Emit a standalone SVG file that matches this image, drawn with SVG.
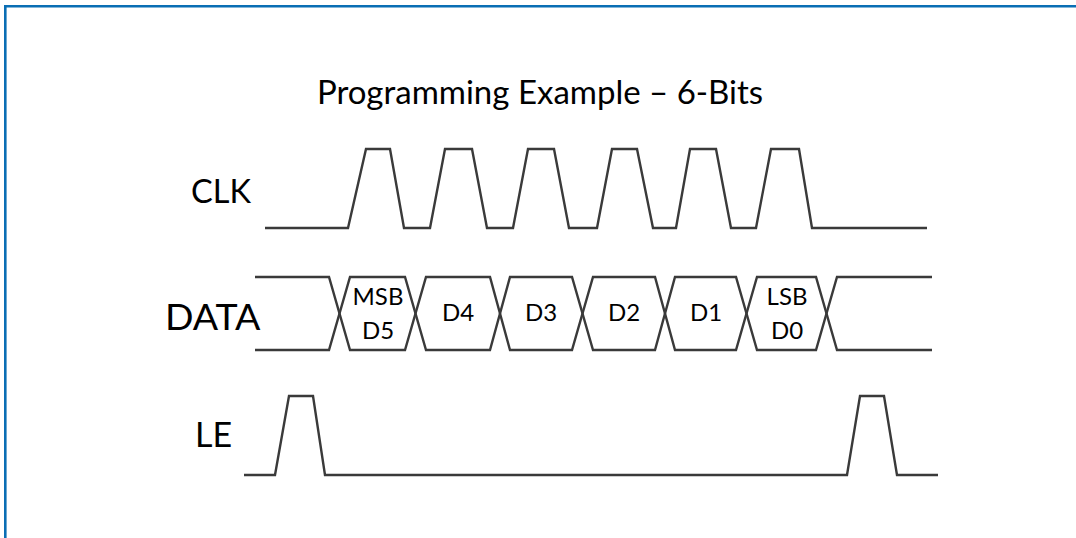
<svg xmlns="http://www.w3.org/2000/svg" width="1076" height="538" viewBox="0 0 1076 538">
  <style>
    .frame { stroke: #0a6eb4; stroke-width: 2.6; fill: none; }
    .wave { stroke: #3a3a3a; stroke-width: 2.4; fill: none; stroke-linejoin: miter; }
    .t { font-family: Lato, "Open Sans", sans-serif; fill: #000; }
    .clk { font-size: 32.5px; }
    .le { font-size: 34px; }
    .big { font-size: 37.5px; }
    .title { font-size: 33px; text-anchor: middle; }
    .lbl { font-size: 24px; text-anchor: middle; }
  </style>
  <rect width="1076" height="538" fill="#ffffff"/>
  <g id="frame">
    <path class="frame" d="M5.3,538 V6.2 H1076"/>
  </g>
  <g id="title">
    <text class="t title" x="540" y="104">Programming Example – 6-Bits</text>
  </g>
  <g id="clk">
    <text class="t clk" x="191" y="203">CLK</text>
    <path class="wave" d="M265,228 H348 L366,149 H390 L404,228 H430 L445,149 H472 L487,228 H513 L528,149 H554 L569,228 H597 L612,149 H637 L653,228 H676 L690,149 H716 L731,228 H756 L771,149 H799 L812,228 H927"/>
  </g>
  <g id="data">
    <text class="t big" x="165" y="330">DATA</text>
    <path class="wave" d="M255,277 H329 L350,350 H405 L426,277 H490 L510,350 H572 L593,277 H655 L675,350 H736 L757,277 H816 L837,350 H932"/>
    <path class="wave" d="M255,350 H329 L350,277 H405 L426,350 H490 L510,277 H572 L593,350 H655 L675,277 H736 L757,350 H816 L837,277 H932"/>
    <g id="bit-d5">
      <text class="t lbl" x="378" y="305">MSB</text>
      <text class="t lbl" x="378" y="339">D5</text>
    </g>
    <g id="bit-d4"><text class="t lbl" x="458" y="321">D4</text></g>
    <g id="bit-d3"><text class="t lbl" x="541" y="321">D3</text></g>
    <g id="bit-d2"><text class="t lbl" x="624" y="321">D2</text></g>
    <g id="bit-d1"><text class="t lbl" x="706" y="321">D1</text></g>
    <g id="bit-d0">
      <text class="t lbl" x="787" y="305">LSB</text>
      <text class="t lbl" x="787" y="339">D0</text>
    </g>
  </g>
  <g id="le">
    <text class="t le" x="195" y="447">LE</text>
    <path class="wave" d="M244,475 H275 L289,396 H313 L325,475 H847 L860,396 H884 L897,475 H938"/>
  </g>
</svg>
